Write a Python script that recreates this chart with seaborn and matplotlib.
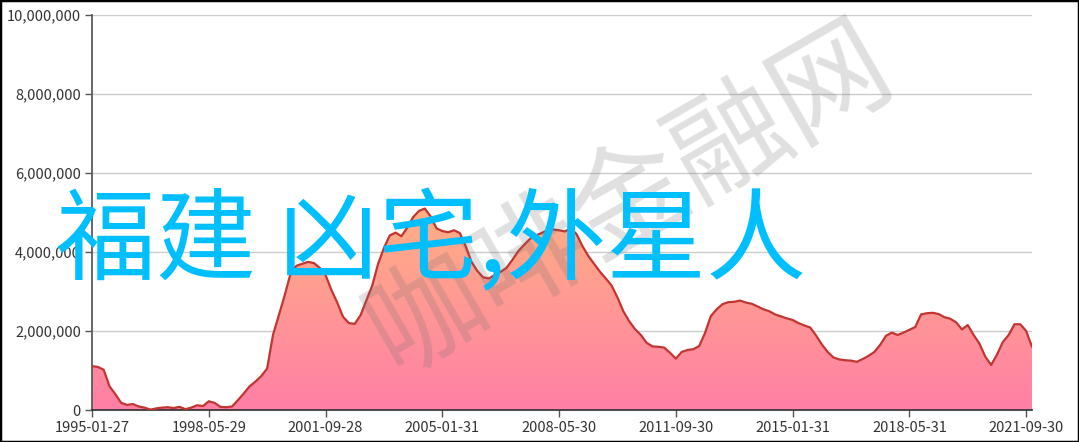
import numpy as np
import pandas as pd
import seaborn as sns
import matplotlib.pyplot as plt
from matplotlib.patches import Rectangle
from matplotlib.colors import LinearSegmentedColormap
from matplotlib.ticker import FuncFormatter

# values in millions, one point every two months from 1995-01
values = [
    1.11, 1.09, 1.02, 0.60, 0.40, 0.18, 0.13, 0.15, 0.09, 0.06,
    0.01, 0.04, 0.06, 0.07, 0.05, 0.08, 0.02, 0.06, 0.12, 0.10,
    0.22, 0.18, 0.08, 0.07, 0.09, 0.25, 0.42, 0.60, 0.72, 0.86,
    1.05, 1.90, 2.40, 2.90, 3.45, 3.65, 3.70, 3.75, 3.72, 3.60,
    3.42, 3.04, 2.72, 2.36, 2.20, 2.18, 2.40, 2.78, 3.15, 3.70,
    4.10, 4.42, 4.49, 4.40, 4.62, 4.88, 5.04, 5.10, 4.90, 4.60,
    4.53, 4.50, 4.55, 4.48, 4.15, 3.75, 3.52, 3.36, 3.33, 3.42,
    3.50, 3.60, 3.80, 4.02, 4.18, 4.33, 4.42, 4.48, 4.55, 4.57,
    4.55, 4.52, 4.60, 4.45, 4.15, 3.90, 3.70, 3.50, 3.33, 3.15,
    2.85, 2.50, 2.25, 2.05, 1.90, 1.70, 1.61, 1.60, 1.58, 1.45,
    1.30, 1.47, 1.52, 1.54, 1.62, 1.95, 2.38, 2.55, 2.68, 2.73,
    2.74, 2.77, 2.72, 2.69, 2.62, 2.55, 2.50, 2.42, 2.37, 2.32,
    2.28, 2.20, 2.14, 2.09, 1.89, 1.66, 1.47, 1.33, 1.28, 1.26,
    1.25, 1.22, 1.29, 1.37, 1.47, 1.65, 1.88, 1.96, 1.90, 1.96,
    2.03, 2.10, 2.42, 2.45, 2.46, 2.43, 2.35, 2.31, 2.22, 2.04,
    2.15, 1.90, 1.68, 1.35, 1.14, 1.40, 1.72, 1.90, 2.17, 2.17,
    2.00, 1.60,
]
tick_labels = ['1995-01-27', '1998-05-29', '2001-09-28', '2005-01-31', '2008-05-30',
               '2011-09-30', '2015-01-31', '2018-05-31', '2021-09-30']
y_ticks = [0, 2000000, 4000000, 6000000, 8000000, 10000000]

title_text = '福建 凶宅,外星人'
watermark = '咖啡金融网'

df = pd.DataFrame({'idx': np.arange(len(values)), 'value': np.array(values) * 1e6})

sns.set_theme(style='white')
plt.rcParams['font.family'] = ['Noto Sans CJK SC', 'DejaVu Sans']

fig = plt.figure(figsize=(10.79, 4.42), dpi=100)
ax = fig.add_axes([92 / 1079, 32 / 442, 940 / 1079, 395 / 442])

# gradient area under the line
poly = ax.fill_between(df['idx'], df['value'], 0, color='none', lw=0)
grad = LinearSegmentedColormap.from_list('g', ['#ff7fa6', '#ffb084'])
top = df['value'].max()
img = ax.imshow(np.linspace(0, 1, 256).reshape(-1, 1), cmap=grad, aspect='auto',
                origin='lower', extent=[0, df['idx'].max(), 0, top], zorder=2)
img.set_clip_path(poly.get_paths()[0], transform=ax.transData)

sns.lineplot(data=df, x='idx', y='value', ax=ax, color='#c23531', lw=1.6, zorder=3)

ax.set_xlim(0, df['idx'].max())
ax.set_ylim(0, 10000000)
ax.set_xticks(np.arange(0, 161, 20))
ax.set_xticklabels(tick_labels)
ax.set_yticks(y_ticks)
ax.yaxis.set_major_formatter(FuncFormatter(lambda v, p: f'{int(v):,}'))
ax.set_xlabel('')
ax.set_ylabel('')
ax.grid(axis='y', color='#cccccc', lw=1)
ax.set_axisbelow(True)
for s in ['top', 'right']:
    ax.spines[s].set_visible(False)
ax.spines['left'].set_color('#555555')
ax.spines['bottom'].set_color('#333333')
ax.tick_params(axis='both', which='major', direction='out', length=5, width=1,
               color='#555555', labelsize=10.5, labelcolor='#333333', pad=3)
ax.tick_params(axis='both', left=True, bottom=True)

# watermark
fig.text(630 / 1079, 1 - 200 / 442, watermark, rotation=30, fontsize=84,
         color='#707070', alpha=0.22, ha='center', va='center', zorder=5)

# big overlay text
fig.text(56 / 1079, 1 - 272 / 442, title_text, fontsize=72, color='#00bfff',
         ha='left', va='baseline', zorder=6)

fig.patches.append(Rectangle((0, 0), 1, 1, transform=fig.transFigure, fill=False,
                             edgecolor='black', lw=2.5))

fig.savefig('out.png', dpi=100)
